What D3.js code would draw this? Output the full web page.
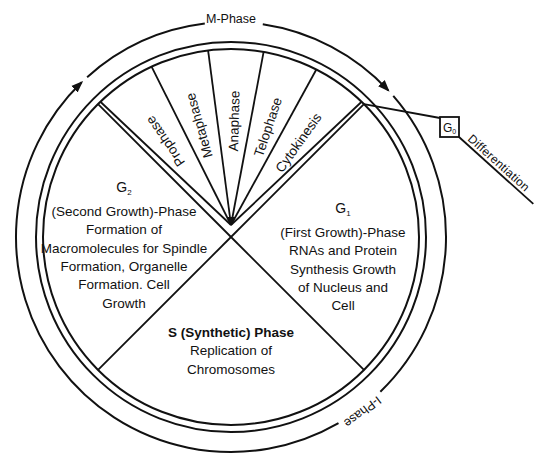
<!DOCTYPE html>
<html>
<head>
<meta charset="utf-8">
<script src="https://cdn.jsdelivr.net/npm/d3@7"></script>
<style>
  body { margin: 0; background: #fff; }
  text { font-family: "Liberation Sans", Arial, Helvetica, sans-serif; fill: #111; }
</style>
</head>
<body>
<div id="plot"></div>
<script>
// main phases, clockwise from the top (degrees of the circle)
const phases = ["M", "G1", "S", "G2"];
const phaseSpan = [90, 90, 90, 90];

// steps of the M phase, left to right (degrees)
const mSteps = ["Prophase", "Metaphase", "Anaphase", "Telophase", "Cytokinesis"];
const mSpan = [19, 18, 17, 17, 17];

// text blocks of the big sectors
const g1Lines = ["(First Growth)-Phase", "RNAs and Protein", "Synthesis Growth", "of Nucleus and", "Cell"];
const g2Lines = ["(Second Growth)-Phase", "Formation of", "Macromolecules for Spindle", "Formation, Organelle", "Formation. Cell", "Growth"];
const sLines = ["S (Synthetic) Phase", "Replication of", "Chromosomes"];

// labels on the outer ring
const ringLabels = ["M-Phase", "I-Phase"];

const w = 540;
const h = 457;
const cx = 231, cy = 237;
const rIn = 188, rOut = 195, rRing = 215;
const rad = d => d * Math.PI / 180;
const pt = (a, r) => { const p = d3.pointRadial(a, r); return [cx + p[0], cy + p[1]]; };

const svg = d3.select("div#plot")
  .append("svg")
    .attr("width", w)
    .attr("height", h);

svg.append("rect")
  .attr("width", w)
  .attr("height", h)
  .attr("fill", "#fff");

svg.append("defs").append("marker")
    .attr("id", "head")
    .attr("viewBox", "0 -5 12 10")
    .attr("refX", 10)
    .attr("markerUnits", "userSpaceOnUse")
    .attr("markerWidth", 12)
    .attr("markerHeight", 10)
    .attr("orient", "auto")
  .append("path")
    .attr("d", "M0,-4.5L12,0L0,4.5Z")
    .attr("fill", "#111");

// layout of the sectors
const pie = d3.pie().sort(null).value(d => d)
  .startAngle(rad(-45)).endAngle(rad(315));
const arcs = pie(phaseSpan);
const mArc = arcs[0];
const subArcs = d3.pie().sort(null).value(d => d)
  .startAngle(mArc.startAngle + rad(1))
  .endAngle(mArc.endAngle - rad(1))(mSpan);

// double circle
svg.selectAll("circle.rim")
  .data([rIn, rOut])
  .enter()
  .append("circle")
    .attr("class", "rim")
    .attr("cx", cx)
    .attr("cy", cy)
    .attr("r", d => d)
    .attr("fill", "none")
    .attr("stroke", "#111")
    .attr("stroke-width", 2);

// sector borders (the big X)
svg.selectAll("line.sector")
  .data(arcs)
  .enter()
  .append("line")
    .attr("class", "sector")
    .attr("x1", cx)
    .attr("y1", cy)
    .attr("x2", d => pt(d.startAngle, rIn)[0])
    .attr("y2", d => pt(d.startAngle, rIn)[1])
    .attr("stroke", "#111")
    .attr("stroke-width", 1.8);

// M phase spokes, from a hub a little above the centre
const hub = [cx, cy - 12];
const spokeAngles = [subArcs[0].startAngle].concat(subArcs.map(d => d.endAngle));
svg.selectAll("line.spoke")
  .data(spokeAngles)
  .enter()
  .append("line")
    .attr("class", "spoke")
    .attr("x1", hub[0])
    .attr("y1", hub[1])
    .attr("x2", d => pt(d, rIn)[0])
    .attr("y2", d => pt(d, rIn)[1])
    .attr("stroke", "#111")
    .attr("stroke-width", 1.8);

// small filled wedge where the spokes meet
const toward = (a, len) => {
  const e = pt(a, rIn);
  const dx = e[0] - hub[0], dy = e[1] - hub[1];
  const l = Math.hypot(dx, dy);
  return [hub[0] + dx / l * len, hub[1] + dy / l * len];
};
svg.append("path")
  .attr("d", d3.line()([hub, toward(spokeAngles[1], 9), toward(spokeAngles[4], 9)]) + "Z")
  .attr("fill", "#111");

// M phase step labels
svg.selectAll("text.step")
  .data(subArcs)
  .enter()
  .append("text")
    .attr("class", "step")
    .attr("transform", d => {
      const a = (d.startAngle + d.endAngle) / 2;
      const p = pt(a, 116);
      return `translate(${p[0]},${p[1]}) rotate(${a * 180 / Math.PI - 90})`;
    })
    .attr("text-anchor", "middle")
    .attr("dy", "0.35em")
    .style("font-size", "13.5px")
    .text((d, i) => mSteps[i]);

// big sector text blocks
function block(lines, title, sub, anchor, y0, bold) {
  const g = svg.append("g").attr("transform", `translate(${anchor[0]},${y0})`);
  let y = 0;
  if (title) {
    const t = g.append("text")
      .attr("text-anchor", "middle")
      .attr("y", 0)
      .style("font-size", "14px")
      .text(title);
    t.append("tspan").attr("dy", 3).style("font-size", "8px").text(sub);
    y = 24;
  }
  g.selectAll("text.line")
    .data(lines)
    .enter()
    .append("text")
      .attr("class", "line")
      .attr("text-anchor", "middle")
      .attr("y", (d, i) => y + i * 18.3)
      .style("font-size", "13.5px")
      .style("font-weight", (d, i) => (bold && i === 0) ? "bold" : "normal")
      .text(d => d);
}
const mid = d => (d.startAngle + d.endAngle) / 2;
block(g1Lines, "G", "1", pt(mid(arcs[1]), 112), cy - 24, false);
block(sLines, null, null, pt(mid(arcs[2]), 0), cy + 100, true);
block(g2Lines, "G", "2", pt(mid(arcs[3]), 107), cy - 45, false);

// outer ring with arrows
const ringSegs = [
  [150, 316, true],
  [318, 353, false],
  [8.5, 47, true],
  [49, 136, false]
];
svg.selectAll("path.ring")
  .data(ringSegs)
  .enter()
  .append("path")
    .attr("class", "ring")
    .attr("d", d => {
      const p = d3.path();
      const a0 = rad(d[0] - 90), a1 = rad((d[1] < d[0] ? d[1] + 360 : d[1]) - 90);
      p.arc(cx, cy, rRing, a0, a1, false);
      return p.toString();
    })
    .attr("fill", "none")
    .attr("stroke", "#111")
    .attr("stroke-width", 2)
    .attr("marker-end", d => d[2] ? "url(#head)" : null);

// ring labels
const mPos = pt(0, rRing + 3);
svg.append("text")
  .attr("x", mPos[0])
  .attr("y", mPos[1])
  .attr("dy", "0.35em")
  .attr("text-anchor", "middle")
  .style("font-size", "12.5px")
  .text(ringLabels[0]);

const iPos = pt(rad(143), rRing + 4);
svg.append("text")
  .attr("transform", `translate(${iPos[0]},${iPos[1]}) rotate(143)`)
  .attr("dy", "0.35em")
  .attr("text-anchor", "middle")
  .style("font-size", "12.5px")
  .text(ringLabels[1]);

// G0 exit: box and differentiation line
const exitFrom = pt(mArc.endAngle, rIn);
const box = {x: 440, y: 117, w: 19, h: 20};
svg.append("line")
  .attr("x1", exitFrom[0]).attr("y1", exitFrom[1])
  .attr("x2", box.x).attr("y2", box.y + 1)
  .attr("stroke", "#111").attr("stroke-width", 1.8);
svg.append("rect")
  .attr("x", box.x).attr("y", box.y)
  .attr("width", box.w).attr("height", box.h)
  .attr("fill", "#fff").attr("stroke", "#111").attr("stroke-width", 1.8);
const g0 = svg.append("text")
  .attr("x", box.x + 3).attr("y", box.y + 15)
  .style("font-size", "12px")
  .text("G");
g0.append("tspan").attr("dy", 2).style("font-size", "7px").text("0");

const ang = 42;
svg.append("line")
  .attr("x1", box.x + box.w).attr("y1", box.y + box.h)
  .attr("x2", box.x + box.w + 100 * Math.cos(rad(ang)))
  .attr("y2", box.y + box.h + 100 * Math.sin(rad(ang)))
  .attr("stroke", "#111").attr("stroke-width", 1.8);
svg.append("text")
  .attr("transform", `translate(${box.x + box.w + 6},${box.y + box.h + 5}) rotate(${ang})`)
  .attr("y", -3)
  .style("font-size", "12px")
  .style("letter-spacing", "0.3px")
  .text("Differentiation");
</script>
</body>
</html>
